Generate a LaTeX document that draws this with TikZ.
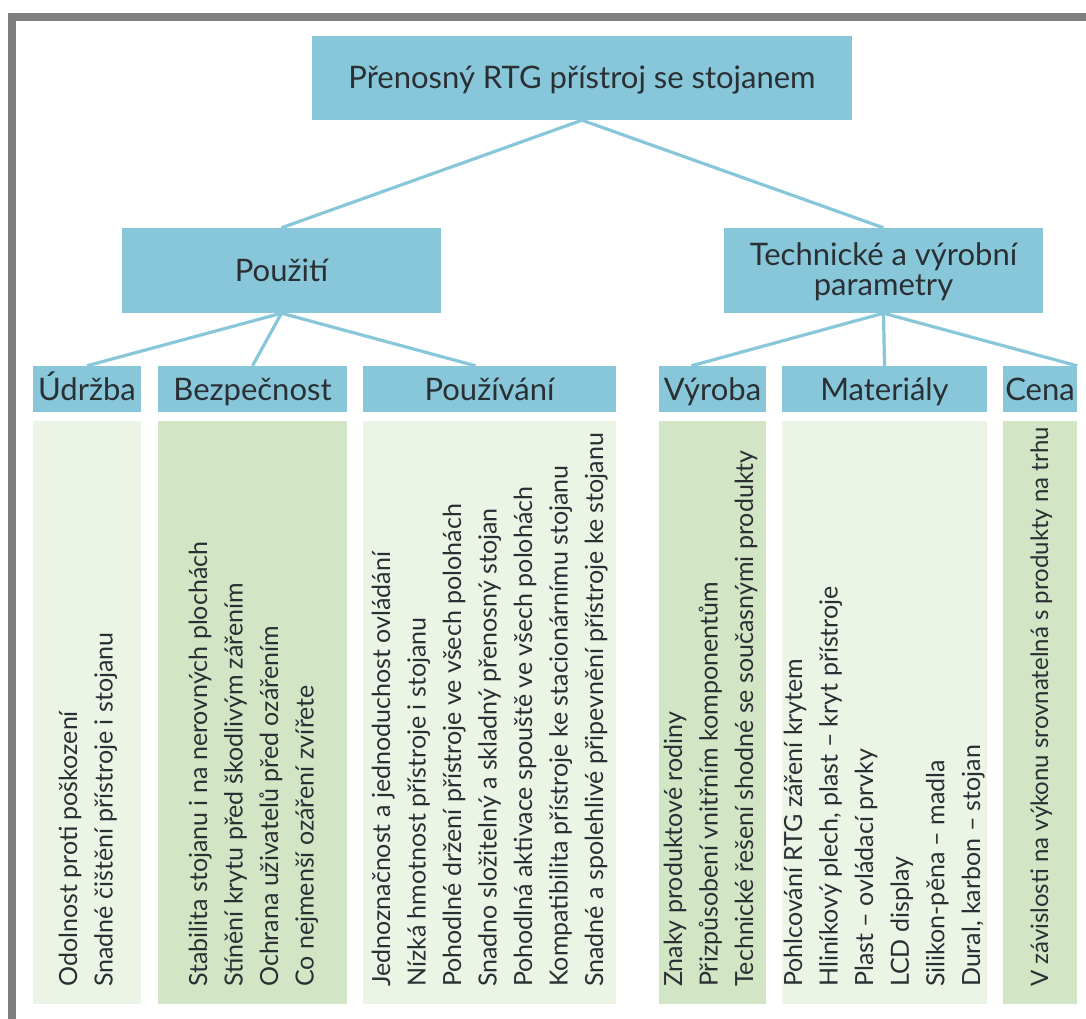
\documentclass[tikz,border=0pt]{standalone}
\usepackage{fontspec}
\setmainfont{Lato}
\usetikzlibrary{calc}
\definecolor{boxblue}{HTML}{88C7D9}
\definecolor{palegreen}{HTML}{EBF4E5}
\definecolor{leafgreen}{HTML}{D2E6C6}
\definecolor{ink}{HTML}{2A2F33}
\definecolor{framegray}{HTML}{7F7F7F}

\begin{document}
\begin{tikzpicture}[x=1pt,y=-1pt,
  box/.style={fill=boxblue, inner sep=0pt, text=ink, align=center,
    font=\fontsize{31}{30}\selectfont},
  head/.style={box, minimum height=46pt, text height=22pt, text depth=0pt},
  panel/.style={inner sep=0pt, minimum height=583pt},
  caption/.style={inner sep=0pt, text=ink, align=center,
    font=\fontsize{31}{30}\selectfont},
  link/.style={draw=boxblue, line width=3.2pt},
  item/.style={rotate=90, anchor=base west, inner sep=0pt, text=ink,
    font=\fontsize{25}{30}\selectfont},
]
\useasboundingbox (0,0) rectangle (1086,1019);
\fill[white] (0,0) rectangle (1086,1019);

% frame along the top and left edges
\fill[framegray] (8,13) rectangle (1086,21);
\fill[framegray] (8,13) rectangle (16,1019);

% hierarchy boxes
\node[box, minimum width=540pt, minimum height=84pt, text height=22pt, text depth=0pt]
  (top) at (582,78) {Přenosný RTG přístroj se stojanem};
\node[box, minimum width=319pt, minimum height=85pt, text height=22pt, text depth=0pt]
  (pouziti) at (281.5,270.5) {Použití};
\node[box, minimum width=319pt, minimum height=85pt] (technicke) at (883.5,270.5) {};
\node[caption] (technicke-text) at (883.5,272) {Technické a výrobní\\parametry};

\node[head, minimum width=108pt] (udrzba)     at (87,389)    {Údržba};
\node[head, minimum width=189pt] (bezpecnost) at (252.5,389) {Bezpečnost};
\node[head, minimum width=253pt] (pouzivani)  at (489.5,389) {Používání};
\node[head, minimum width=107pt] (vyroba)     at (712.5,389) {Výroba};
\node[head, minimum width=205pt] (materialy)  at (884.5,389) {Materiály};
\node[head, minimum width=74pt]  (cena)       at (1040,389)  {Cena};

% content panels
\node[panel, fill=palegreen, minimum width=108pt] (udrzba-p)     at (87,712.5)    {};
\node[panel, fill=leafgreen, minimum width=189pt] (bezpecnost-p) at (252.5,712.5) {};
\node[panel, fill=palegreen, minimum width=253pt] (pouzivani-p)  at (489.5,712.5) {};
\node[panel, fill=leafgreen, minimum width=107pt] (vyroba-p)     at (712.5,712.5) {};
\node[panel, fill=palegreen, minimum width=205pt] (materialy-p)  at (884.5,712.5) {};
\node[panel, fill=leafgreen, minimum width=74pt]  (cena-p)       at (1040,712.5)  {};

% connectors
\draw[link] (top.south) -- (pouziti.north);
\draw[link] (top.south) -- (technicke.north);
\draw[link] (pouziti.south) -- (udrzba.north);
\draw[link] (pouziti.south) -- (bezpecnost.north);
\draw[link] (pouziti.south) -- ($(pouzivani.north)+(-14,0)$);
\draw[link] (technicke.south) -- ($(vyroba.north)+(-21,0)$);
\draw[link] (technicke.south) -- (materialy.north);
\draw[link] (technicke.south) -- (cena.north east);

% rotated item lists
\foreach \t [count=\i from 0] in {Odolnost proti poškození,
    Snadné čištění přístroje i stojanu}
  \node[item] (udrzba-\i) at (77+35.5*\i,987) {\t};
\foreach \t [count=\i from 0] in {Stabilita stojanu i na nerovných plochách,
    Stínění krytu před škodlivým zářením,
    Ochrana uživatelů před ozářením,
    Co nejmenší ozáření zvířete}
  \node[item] (bezpecnost-\i) at (207+35.5*\i,987) {\t};
\foreach \t [count=\i from 0] in {Jednoznačnost a jednoduchost ovládání,
    Nízká hmotnost přístroje i stojanu,
    Pohodlné držení přístroje ve všech polohách,
    Snadno složitelný a skladný přenosný stojan,
    Pohodlná aktivace spouště ve všech polohách,
    Kompatibilita přístroje ke stacionárnímu stojanu,
    Snadné a spolehlivé připevnění přístroje ke stojanu}
  \node[item] (pouzivani-\i) at (390+35.5*\i,987) {\t};
\foreach \t [count=\i from 0] in {Znaky produktové rodiny,
    Přizpůsobení vnitřním komponentům,
    Technické řešení shodné se současnými produkty}
  \node[item] (vyroba-\i) at (682+35.5*\i,987) {\t};
\foreach \t [count=\i from 0] in {Pohlcování RTG záření krytem,
    {Hliníkový plech, plast – kryt přístroje},
    Plast – ovládací prvky,
    LCD display,
    Silikon-pěna – madla,
    {Dural, karbon – stojan}}
  \node[item] (materialy-\i) at (802+35.6*\i,987) {\t};
\node[item, font=\fontsize{24}{30}\selectfont] (cena-0) at (1048,987)
  {V závislosti na výkonu srovnatelná s produkty na trhu};
\end{tikzpicture}
\end{document}
